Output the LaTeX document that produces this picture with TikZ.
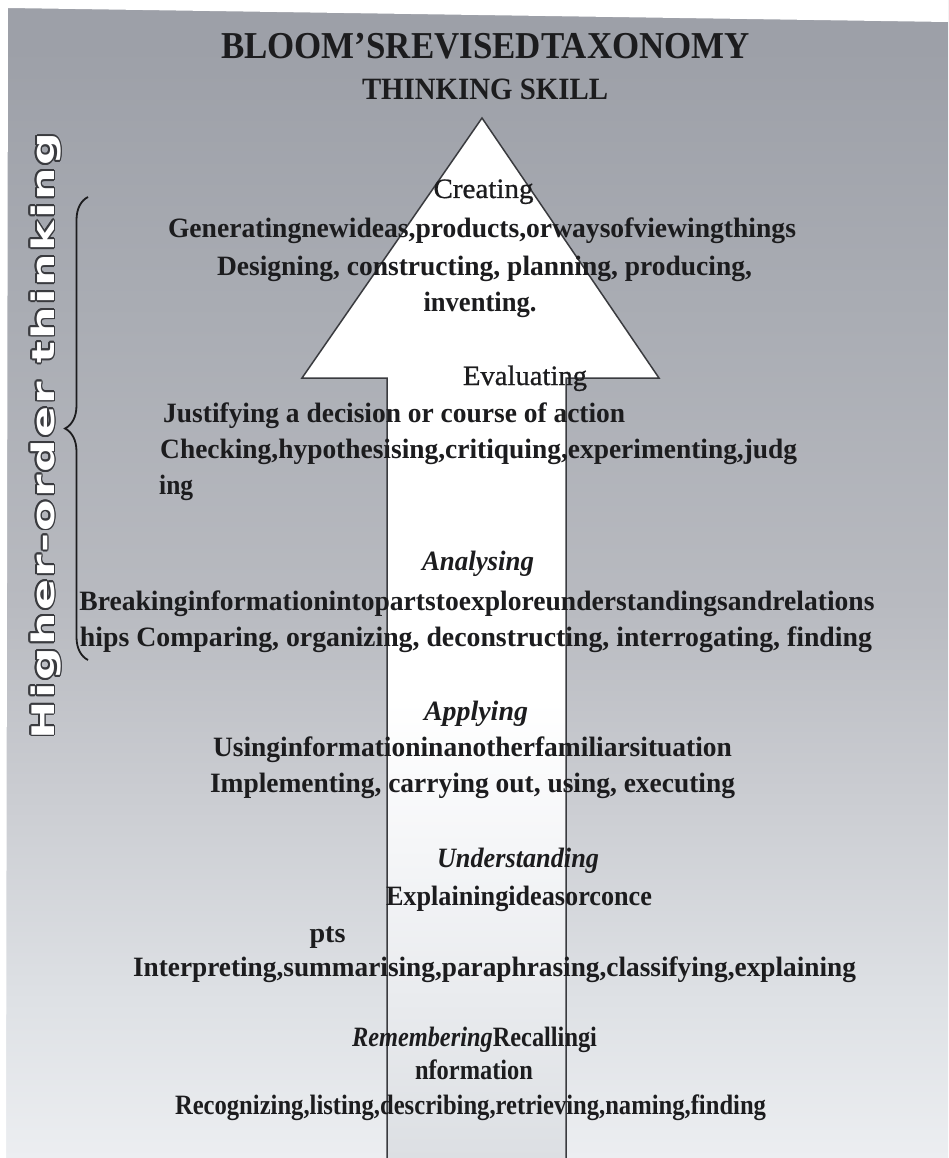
\documentclass[tikz,border=0pt]{standalone}
\usepackage{fontspec}
\setmainfont{Liberation Serif}
\newfontfamily\hofont[LetterSpace=5]{DejaVu Sans}
\newfontfamily\semiserif[FakeBold=0.8]{Liberation Serif}
\usetikzlibrary{decorations.pathreplacing}
\definecolor{ink}{HTML}{1C1C1E}
\definecolor{edge}{HTML}{3A3B3F}
\definecolor{bgA}{HTML}{9DA0A8}
\definecolor{bgB}{HTML}{A9ACB3}
\definecolor{bgC}{HTML}{B8BAC0}
\definecolor{bgD}{HTML}{CBCDD2}
\definecolor{bgE}{HTML}{DEE1E5}
\definecolor{bgF}{HTML}{ECEEF1}
\definecolor{arA}{HTML}{FFFFFF}
\definecolor{arB}{HTML}{F5F6F8}
\definecolor{arC}{HTML}{E9EBEE}
\definecolor{arD}{HTML}{DCDFE3}
\pgfdeclareverticalshading{bgsh}{100bp}{color(0bp)=(bgF); color(25bp)=(bgF); color(31.8bp)=(bgE); color(40.5bp)=(bgD); color(49bp)=(bgC); color(62bp)=(bgB); color(73bp)=(bgA); color(100bp)=(bgA)}
\pgfdeclareverticalshading{arsh}{100bp}{color(0bp)=(arD); color(25bp)=(arD); color(32.6bp)=(arC); color(40bp)=(arB); color(47bp)=(arA); color(100bp)=(arA)}
\newsavebox\fitbox
\newcommand\fitw[2]{\sbox\fitbox{#2}\pgfmathsetmacro\fitr{#1/\the\wd\fitbox}\scalebox{\fitr}[1]{\usebox\fitbox}}
\tikzset{
  body/.style={inner sep=0pt, anchor=base, text=ink, font=\fontsize{28}{33}\selectfont\bfseries},
  bodyleft/.style={body, anchor=base west},
  head/.style={body, font=\fontsize{28}{33}\selectfont\bfseries\itshape},
  plainhead/.style={body, font=\fontsize{28}{33}\selectfont\semiserif},
  titletext/.style={body, font=\fontsize{38}{42}\selectfont\bfseries},
  subtitletext/.style={body, font=\fontsize{31}{36}\selectfont\bfseries},
  hotext/.style={inner sep=0pt, anchor=base, rotate=90, font=\fontsize{31}{36}\selectfont\hofont\bfseries},
  arrowedge/.style={draw=edge, line width=1.5pt},
  braceline/.style={draw=ink, line width=1.8pt, decorate, decoration={brace, amplitude=23pt}}
}
\begin{document}
\begin{tikzpicture}[x=1pt,y=-1pt]
\useasboundingbox (0,0) rectangle (948,1158);
% background
\shade[shading=bgsh] (0,0) rectangle (948,1158);
\fill[white] (0,0) -- (948,0) -- (948,22) -- (8,8) -- (6,1158) -- (0,1158) -- cycle;
% arrow
\coordinate (sbl) at (387,1158);
\coordinate (stl) at (387,378);
\coordinate (hl) at (302,378);
\coordinate (tip) at (482,118);
\coordinate (hr) at (659,378);
\coordinate (str) at (566,378);
\coordinate (sbr) at (566,1158);
\shade[shading=arsh] (sbl) -- (stl) -- (hl) -- (tip) -- (hr) -- (str) -- (sbr) -- cycle;
\draw[arrowedge, line join=miter] (sbl) -- (stl) -- (hl) -- (tip) -- (hr) -- (str) -- (sbr);
% brace and side label
\coordinate (bb) at (88,660);
\coordinate (bt) at (88,197);
\draw[braceline] (bb) -- (bt);
\coordinate (hotc) at (54,436);
\foreach \a in {0,30,...,330}{
  \node[hotext, text=edge, shift={(\a:1.9)}] (hotsh\a) at (hotc) {\fitw{606}{Higher-order thinking}};
}
\node[hotext, text=white] (hot) at (hotc) {\fitw{606}{Higher-order thinking}};
% titles
\node[titletext] (title) at (485.5,59) {\fitw{529}{BLOOM’SREVISEDTAXONOMY}};
\node[subtitletext] (subtitle) at (485,100) {\fitw{246}{THINKING SKILL}};
% creating
\node[plainhead] (creating) at (483.5,198) {\fitw{100}{Creating}};
\node[body] (cr1) at (482,238) {\fitw{628}{Generatingnewideas,products,orwaysofviewingthings}};
\node[body] (cr2) at (484.5,275) {\fitw{535}{Designing, constructing, planning, producing,}};
\node[body] (cr3) at (480,311) {\fitw{113}{inventing.}};
% evaluating
\node[plainhead] (evaluating) at (525,385) {\fitw{124}{Evaluating}};
\node[bodyleft] (ev1) at (163,422) {\fitw{462}{Justifying a decision or course of action}};
\node[bodyleft] (ev2) at (160,458) {\fitw{637}{Checking,hypothesising,critiquing,experimenting,judg}};
\node[bodyleft] (ev3) at (159,494) {\fitw{34}{ing}};
% analysing
\node[head] (analysing) at (478,570) {\fitw{112}{Analysing}};
\node[body] (an1) at (477,610) {\fitw{795}{Breakinginformationintopartstoexploreunderstandingsandrelations}};
\node[body] (an2) at (476,646) {\fitw{792}{hips Comparing, organizing, deconstructing, interrogating, finding}};
% applying
\node[head] (applying) at (476,720) {\fitw{104}{Applying}};
\node[body] (ap1) at (472.5,756) {\fitw{519}{Usinginformationinanotherfamiliarsituation}};
\node[body] (ap2) at (472.5,792) {\fitw{525}{Implementing, carrying out, using, executing}};
% understanding
\node[head] (understanding) at (518,867) {\fitw{162}{Understanding}};
\node[body] (un1) at (519,905) {\fitw{266}{Explainingideasorconce}};
\node[body] (un2) at (327.5,942) {\fitw{36}{pts}};
\node[body] (un3) at (494.5,976) {\fitw{723}{Interpreting,summarising,paraphrasing,classifying,explaining}};
% remembering
\node[body] (re1) at (474.5,1046) {\fitw{245}{\textit{Remembering}Recallingi}};
\node[body] (re2) at (474,1079) {\fitw{118}{nformation}};
\node[body] (re3) at (470.5,1114) {\fitw{591}{Recognizing,listing,describing,retrieving,naming,finding}};
\end{tikzpicture}
\end{document}
